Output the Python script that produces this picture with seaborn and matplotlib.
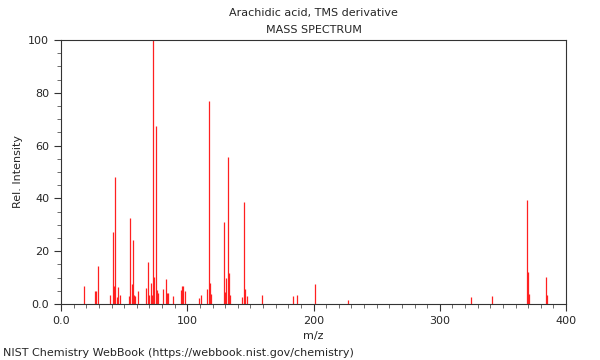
import matplotlib
matplotlib.use("Agg")
import matplotlib.pyplot as plt
from matplotlib.ticker import MultipleLocator, FuncFormatter
import seaborn as sns
import pandas as pd

TITLE = "Arachidic acid, TMS derivative"
SUBTITLE = "MASS SPECTRUM"
FOOTER = "NIST Chemistry WebBook (https://webbook.nist.gov/chemistry)"

# peaks
mz = [18, 27, 28, 29, 39, 41, 42, 43, 44, 45, 47, 54, 55, 56, 57, 58, 59, 61,
      67, 69, 70, 71, 72, 73, 74, 75, 76, 77, 81, 83, 84, 85, 89, 95, 96, 97, 98,
      109, 111, 116, 117, 118, 119, 129, 130, 131, 132, 133, 134, 143, 145, 146, 147,
      159, 184, 187, 201, 227, 325, 341, 369, 370, 371, 384, 385]
intensity = [6.8, 5.0, 5.0, 14.4, 3.4, 27.3, 6.8, 48.2, 2.8, 6.6, 3.4, 3.0, 32.7, 7.4, 24.2, 3.4, 3.2, 4.9,
             6.2, 15.9, 3.5, 8.0, 3.5, 100.0, 10.1, 67.4, 5.3, 4.0, 5.7, 9.5, 4.0, 4.0, 3.1, 5.3, 6.8, 6.8, 4.9,
             2.4, 3.4, 5.6, 76.9, 8.1, 3.6, 30.9, 4.7, 10.0, 55.8, 11.9, 3.4, 2.7, 38.6, 5.6, 3.0,
             3.3, 3.0, 3.4, 7.6, 1.5, 2.8, 3.2, 39.4, 12.1, 3.8, 10.1, 3.4]


def _fmt(v, _pos):
    # origin is labelled "0.0" in the reference, others as integers
    return "0.0" if v == 0 else f"{v:.0f}"


def main() -> None:
    df = pd.DataFrame({"mz": mz, "intensity": intensity})

    sns.set_theme(style="ticks")
    plt.rcParams["font.family"] = ["DejaVu Sans"]

    fig = plt.figure(figsize=(6, 3.6), dpi=100)
    ax = fig.add_axes([61 / 600, 1 - 304 / 360, 505 / 600, 264 / 360])

    ax.vlines(df["mz"], 0, df["intensity"], color="#ff2020", linewidth=0.9)

    ax.set_xlim(0, 400)
    ax.set_ylim(0, 100)
    ax.xaxis.set_major_locator(MultipleLocator(100))
    ax.xaxis.set_minor_locator(MultipleLocator(10))
    ax.yaxis.set_major_locator(MultipleLocator(20))
    ax.yaxis.set_minor_locator(MultipleLocator(5))
    ax.xaxis.set_major_formatter(FuncFormatter(_fmt))
    ax.yaxis.set_major_formatter(FuncFormatter(_fmt))
    ax.tick_params(which="major", length=5, width=0.8, labelsize=8, color="#333333")
    ax.tick_params(which="minor", length=3, width=0.6, color="#555555")
    for s in ax.spines.values():
        s.set_linewidth(0.8)
        s.set_color("#333333")

    ax.set_xlabel("m/z", fontsize=8)
    ax.set_ylabel("Rel. Intensity", fontsize=8)

    fig.text(0.5 * (61 + 566) / 600, 1 - 13 / 360, TITLE, ha="center", va="center", fontsize=8)
    fig.text(0.5 * (61 + 566) / 600, 1 - 30 / 360, SUBTITLE, ha="center", va="center", fontsize=8)
    fig.text(3 / 600, 1 - 353 / 360, FOOTER, ha="left", va="center", fontsize=8)

    fig.savefig("out.png", dpi=100)
    plt.close(fig)


if __name__ == "__main__":
    main()
